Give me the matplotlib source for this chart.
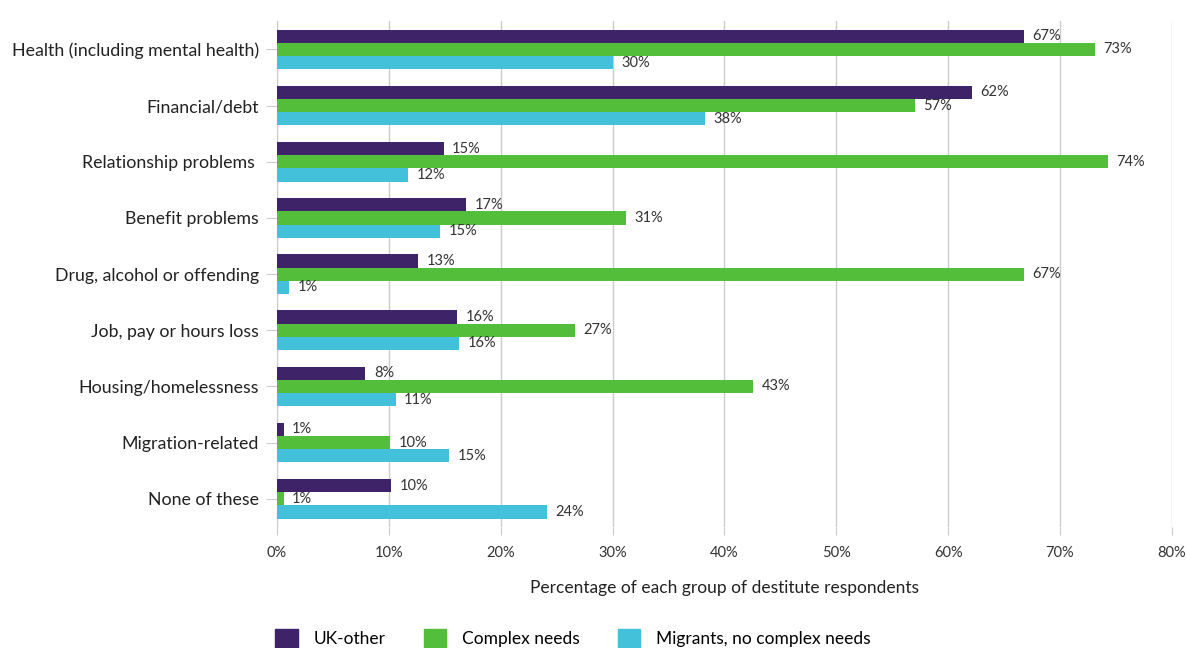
import numpy as np
import matplotlib.pyplot as plt
from matplotlib.patches import Patch

plt.rcParams['font.family'] = ['Lato', 'DejaVu Sans']

categories = ['Health (including mental health)', 'Financial/debt', 'Relationship problems ',
              'Benefit problems', 'Drug, alcohol or offending', 'Job, pay or hours loss',
              'Housing/homelessness', 'Migration-related', 'None of these']
series = ['UK-other', 'Complex needs', 'Migrants, no complex needs']
uk_other = [66.8, 62.1, 14.9, 16.9, 12.6, 16.1, 7.9, 0.6, 10.2]
complex_needs = [73.1, 57.0, 74.3, 31.2, 66.8, 26.6, 42.6, 10.1, 0.6]
migrants = [30.0, 38.3, 11.7, 14.6, 1.1, 16.3, 10.6, 15.4, 24.1]
colors = ['#3f2368', '#52be3a', '#43c1da']

fig = plt.figure(figsize=(11.86, 6.48), dpi=100)
ax = fig.add_axes([0.2336, 0.187, 0.7544, 0.78])

y = np.arange(len(categories))
h = 0.235
for k, vals in enumerate([uk_other, complex_needs, migrants]):
    pos = y + (k - 1) * h
    ax.barh(pos, vals, height=h, color=colors[k], zorder=3)
    for p, v in zip(pos, vals):
        ax.text(v + 0.75, p, f'{v:.0f}%', va='center', ha='left', fontsize=10.5,
                color='#333333', zorder=4)

ax.set_ylim(len(categories) - 0.5, -0.5)
ax.set_xlim(0, 80)
ax.set_xticks(np.arange(0, 81, 10))
ax.set_xticklabels([f'{t}%' for t in range(0, 81, 10)])
ax.set_yticks(y)
ax.set_yticklabels(categories, fontsize=12.8, color='#222222')
ax.grid(axis='x', color='#cccccc', linewidth=1, zorder=0)
for s in ['top', 'right', 'bottom']:
    ax.spines[s].set_visible(False)
ax.spines['left'].set_color('#cccccc')
ax.tick_params(axis='y', length=8, color='#cccccc', pad=5)
ax.tick_params(axis='x', length=6, color='#cccccc', labelsize=10.5, labelcolor='#333333', pad=8)
ax.set_xlabel('Percentage of each group of destitute respondents', fontsize=12.5,
              color='#222222', labelpad=14)

handles = [Patch(color=c) for c in colors]
fig.legend(handles, series, loc='lower left', bbox_to_anchor=(0.219, -0.024), ncol=3,
           frameon=False, fontsize=12.5, handlelength=1.3, handleheight=1.3,
           columnspacing=2.2, handletextpad=0.9)

fig.savefig('out.png', dpi=100)
